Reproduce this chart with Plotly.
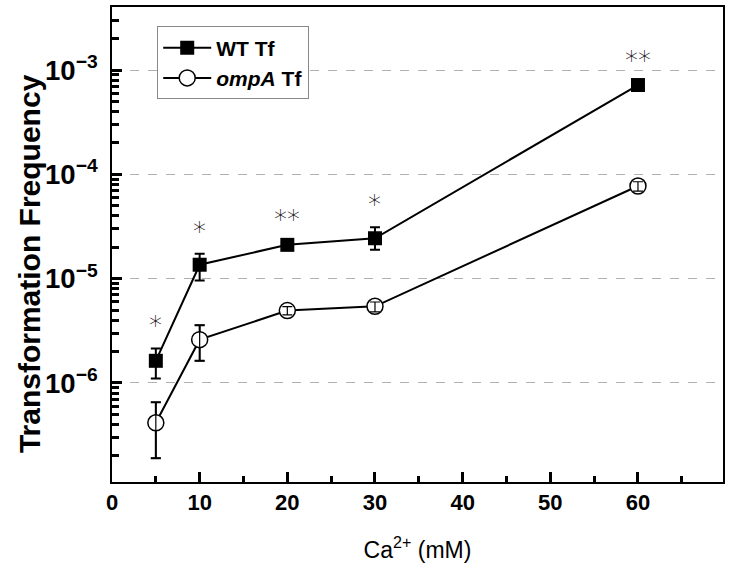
import numpy as np
import plotly.graph_objects as go

# Ca2+ concentration (mM)
ca = [5, 10, 20, 30, 60]

# wild type transformation frequency, with upper / lower error bar ends
wt = [1.63e-6, 1.36e-5, 2.11e-5, 2.44e-5, 7.19e-4]
wt_hi = [2.14e-6, 1.73e-5, 2.26e-5, 3.11e-5, 7.60e-4]
wt_lo = [1.10e-6, 9.6e-6, 1.96e-5, 1.89e-5, 6.80e-4]

# ompA mutant
omp = [4.15e-7, 2.60e-6, 4.94e-6, 5.43e-6, 7.73e-5]
omp_hi = [6.53e-7, 3.58e-6, 5.40e-6, 5.97e-6, 8.50e-5]
omp_lo = [1.90e-7, 1.63e-6, 4.50e-6, 4.80e-6, 6.90e-5]

sig = ['*', '*', '**', '*', '**']

FONT = 'Liberation Sans'
TICK = '#000000'


def err(v, hi, lo):
    return dict(type='data', symmetric=False,
                array=[h - x for h, x in zip(hi, v)],
                arrayminus=[x - l for l, x in zip(lo, v)],
                color='black', thickness=2, width=5)


fig = go.Figure()

fig.add_trace(go.Scatter(
    x=ca, y=wt, mode='lines+markers', name='<b>WT Tf</b>',
    line=dict(color='black', width=2),
    marker=dict(symbol='square', size=14, color='black'),
    error_y=err(wt, wt_hi, wt_lo),
))
fig.add_trace(go.Scatter(
    x=ca, y=omp, mode='lines+markers', name='<b><i>ompA</i> Tf</b>',
    line=dict(color='black', width=2),
    marker=dict(symbol='circle', size=16, color='white',
                line=dict(color='black', width=1.5)),
    error_y=err(omp, omp_hi, omp_lo),
))
# error bars drawn again on top of the open circles
fig.add_trace(go.Scatter(
    x=ca, y=omp, mode='markers', showlegend=False, hoverinfo='skip',
    marker=dict(size=1, opacity=0),
    error_y=dict(err(omp, omp_hi, omp_lo), thickness=1.2),
))

# significance stars above the WT points
for x, hi, s in zip(ca, wt_hi, sig):
    fig.add_annotation(x=x, y=np.log10(hi), text=s, showarrow=False,
                       yanchor='middle', yshift=22,
                       font=dict(family='DejaVu Sans', size=26, color='black', weight=200))

fig.add_annotation(xref='paper', yref='paper', x=-0.134, y=0.459,
                   xanchor='center', yanchor='middle',
                   text='<b>Transformation Frequency</b>', textangle=-90,
                   showarrow=False, font=dict(family=FONT, size=30, color='black'))

fig.update_xaxes(
    range=[0, 69.7], dtick=10, tick0=0,
    showline=True, linecolor='black', linewidth=2, mirror=True,
    ticks='inside', ticklen=10, tickwidth=2.5, tickcolor=TICK,
    minor=dict(dtick=5, ticks='inside', ticklen=6, tickwidth=2.5, tickcolor=TICK),
    showgrid=False, zeroline=False,
    tickfont=dict(family=FONT, size=22, color='black', weight='bold'),
    title=dict(text='Ca<sup>2+</sup> (mM)', standoff=27,
               font=dict(family=FONT, size=23, color='black')),
)
fig.update_yaxes(
    type='log', range=[-6.95, -2.395],
    tickmode='linear', tick0=0, dtick=1, exponentformat='power', showexponent='all',
    showline=True, linecolor='black', linewidth=2, mirror=True,
    ticks='inside', ticklen=10, tickwidth=2.5, tickcolor=TICK,
    minor=dict(dtick='D1', ticks='inside', ticklen=7, tickwidth=2.5, tickcolor=TICK,
               showgrid=False),
    showgrid=True, gridcolor='#b0b0b0', gridwidth=1, griddash='dash',
    zeroline=False, ticklabelstandoff=8,
    tickfont=dict(family=FONT, size=22, color='black', weight='bold'),
)

fig.update_layout(
    width=730, height=571,
    margin=dict(l=112, r=7, t=5, b=89),
    plot_bgcolor='white', paper_bgcolor='white',
    showlegend=True,
    legend=dict(x=0.074, y=0.959, xanchor='left', yanchor='top',
                bgcolor='white', bordercolor='#888', borderwidth=1,
                itemwidth=48, tracegroupgap=0,
                font=dict(family=FONT, size=21, color='black')),
)

fig.write_html('out.html', config={'displayModeBar': False},
               post_script="document.body.style.margin='0';")
